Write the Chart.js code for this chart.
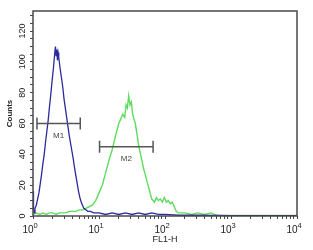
<!DOCTYPE html>
<html>
<head>
<meta charset="utf-8">
<script src="https://cdn.jsdelivr.net/npm/chart.js@4/dist/chart.umd.min.js"></script>
<style>
    html, body { margin: 0; padding: 0; background: #fff; }
    #wrap { width: 313px; height: 250px; }
</style>
</head>
<body>
<div id="wrap"><canvas id="histChart"></canvas></div>
<script>
// Histogram data, x given as log10(FL1-H)
const blueLog = [0.00, 0.005, 0.01, 0.02, 0.03, 0.05, 0.07, 0.09, 0.11, 0.13, 0.15, 0.17, 0.19, 0.21, 0.23, 0.25, 0.27, 0.29, 0.31, 0.33, 0.34, 0.35, 0.36, 0.37, 0.38, 0.39, 0.41, 0.43, 0.45, 0.47, 0.49, 0.51, 0.53, 0.55, 0.57, 0.59, 0.61, 0.63, 0.65, 0.67, 0.69, 0.71, 0.73, 0.75, 0.77, 0.80, 0.83, 0.87, 0.92, 1.0, 1.1, 1.2, 1.3, 1.4, 1.5, 1.6, 1.7, 1.8, 1.9, 2.0, 2.2, 2.5, 3.0, 3.5, 4.0];
const blueCounts = [16, 9, 4, 2, 5, 7, 11, 15, 21, 27, 34, 40, 48, 55, 62, 71, 79, 88, 96, 106, 110, 104, 108, 101, 106, 103, 96, 90, 84, 76, 70, 64, 58, 52, 47, 42, 37, 31, 26, 21, 16, 12, 9, 7, 5, 4, 3, 3, 2, 2, 1, 2, 1, 2, 1, 2, 1, 2, 1, 1, 0.5, 0.5, 0.3, 0.3, 0.3];

const greenLog = [0.0, 0.05, 0.1, 0.15, 0.2, 0.25, 0.3, 0.35, 0.4, 0.45, 0.5, 0.55, 0.6, 0.65, 0.7, 0.75, 0.8, 0.85, 0.9, 0.95, 1.0, 1.05, 1.1, 1.15, 1.2, 1.25, 1.3, 1.33, 1.36, 1.39, 1.41, 1.43, 1.45, 1.47, 1.49, 1.51, 1.53, 1.55, 1.58, 1.6, 1.63, 1.65, 1.68, 1.7, 1.73, 1.75, 1.78, 1.8, 1.84, 1.87, 1.9, 1.93, 1.96, 1.99, 2.02, 2.05, 2.08, 2.11, 2.14, 2.17, 2.2, 2.3, 2.4, 2.5, 2.6, 2.7, 2.75, 2.8, 3.0, 3.5, 4.0];
const greenCounts = [1, 2, 1, 2, 1, 2, 2, 1, 2, 2, 2, 3, 3, 3, 4, 4, 5, 6, 7, 10, 15, 20, 28, 36, 43, 52, 60, 63, 66, 64, 72, 70, 78, 72, 74, 66, 63, 60, 52, 46, 40, 36, 30, 27, 22, 19, 14, 11, 9, 12, 10, 11, 9, 12, 9, 10, 8, 9, 6, 3, 2, 2, 1, 2, 1, 2, 1, 0.3, 0.3, 0.3, 0.3];

const xTicks = [1, 10, 100, 1000, 10000];
const xTickExponents = ['0', '1', '2', '3', '4'];
const yTickLabels = [0, 20, 40, 60, 80, 100, 120];

// gate markers: [from, to, count level, name]
const markerFrom = [1.15, 10.2];
const markerTo = [5.2, 66];
const markerLevel = [60, 45];
const markerNames = ['M1', 'M2'];

const fontFamily = '"Liberation Sans", Arial, sans-serif';

function toPoints(logs, counts) {
    return logs.map(function(l, i) {
        return { x: Math.pow(10, l), y: counts[i] };
    });
}

// frame, decade labels with raised exponent, gate markers
const overlayPlugin = {
    id: 'overlay',
    afterDraw: function(chart) {
        const ctx = chart.ctx;
        const area = chart.chartArea;
        const xs = chart.scales.x;
        const ys = chart.scales.y;
        ctx.save();
        ctx.strokeStyle = '#4a4a4a';
        ctx.lineWidth = 1.5;
        ctx.strokeRect(area.left, area.top, area.right - area.left, area.bottom - area.top);

        // x decade labels
        ctx.fillStyle = '#222';
        ctx.textBaseline = 'alphabetic';
        xTicks.forEach(function(v, i) {
            const px = xs.getPixelForValue(v);
            ctx.font = '10px ' + fontFamily;
            ctx.textAlign = 'right';
            ctx.fillText('10', px + 0.5, area.bottom + 17);
            ctx.font = '7.5px ' + fontFamily;
            ctx.textAlign = 'left';
            ctx.fillText(xTickExponents[i], px + 0.5, area.bottom + 12);
        });

        // M1 / M2 gates
        ctx.strokeStyle = '#555';
        ctx.lineWidth = 1.5;
        ctx.fillStyle = '#444';
        ctx.font = '8px ' + fontFamily;
        ctx.textAlign = 'center';
        ctx.textBaseline = 'middle';
        for (let i = 0; i < markerNames.length; i++) {
            const x1 = xs.getPixelForValue(markerFrom[i]);
            const x2 = xs.getPixelForValue(markerTo[i]);
            const y = ys.getPixelForValue(markerLevel[i]);
            ctx.beginPath();
            ctx.moveTo(x1, y); ctx.lineTo(x2, y);
            ctx.moveTo(x1, y - 6); ctx.lineTo(x1, y + 6);
            ctx.moveTo(x2, y - 6); ctx.lineTo(x2, y + 6);
            ctx.stroke();
            ctx.fillText(markerNames[i], (x1 + x2) / 2, y + 12);
        }
        ctx.restore();
    }
};

const ctx = document.getElementById('histChart').getContext('2d');
const histChart = new Chart(ctx, {
    type: 'line',
    data: {
        datasets: [{
            label: 'control',
            data: toPoints(blueLog, blueCounts),
            borderColor: '#2b2b9c',
            borderWidth: 1.3,
            pointRadius: 0,
            tension: 0
        }, {
            label: 'sample',
            data: toPoints(greenLog, greenCounts),
            borderColor: '#5fdc5f',
            borderWidth: 1.4,
            pointRadius: 0,
            tension: 0
        }]
    },
    options: {
        responsive: true,
        maintainAspectRatio: false,
        animation: false,
        layout: {
            padding: { left: 0, top: 11, right: 16, bottom: 0 }
        },
        plugins: {
            legend: { display: false },
            tooltip: { enabled: false }
        },
        scales: {
            x: {
                type: 'logarithmic',
                min: 1,
                max: 10000,
                afterBuildTicks: function(scale) {
                    const t = [];
                    for (let d = 0; d < 4; d++) {
                        for (let m = 1; m < 10; m++) t.push({ value: m * Math.pow(10, d) });
                    }
                    t.push({ value: 10000 });
                    scale.ticks = t;
                },
                afterFit: function(scale) { scale.height = 34; },
                ticks: {
                    autoSkip: false,
                    maxRotation: 0,
                    callback: function() { return ''; }
                },
                grid: {
                    drawOnChartArea: false,
                    tickLength: 3,
                    tickColor: '#444',
                    tickWidth: 1
                },
                border: { display: false },
                title: {
                    display: true,
                    text: 'FL1-H',
                    color: '#222',
                    font: { size: 9, family: fontFamily },
                    padding: { top: 0, bottom: 5 }
                }
            },
            y: {
                min: 0,
                max: 133,
                afterBuildTicks: function(scale) {
                    const t = [];
                    for (let v = 0; v <= 130; v += 5) t.push({ value: v });
                    scale.ticks = t;
                },
                afterFit: function(scale) { scale.width = 33; },
                ticks: {
                    autoSkip: false,
                    minRotation: 90,
                    maxRotation: 90,
                    crossAlign: 'center',
                    padding: 0,
                    color: '#222',
                    font: { size: 9, family: fontFamily },
                    callback: function(value) {
                        return yTickLabels.indexOf(value) >= 0 ? String(value) : '';
                    }
                },
                grid: {
                    drawOnChartArea: false,
                    tickLength: 3,
                    tickColor: '#444',
                    tickWidth: 1
                },
                border: { display: false },
                title: {
                    display: true,
                    text: 'Counts',
                    color: '#222',
                    font: { size: 8, weight: 'bold', family: fontFamily },
                    padding: { top: 5, bottom: 0 }
                }
            }
        }
    },
    plugins: [overlayPlugin]
});
</script>
</body>
</html>
